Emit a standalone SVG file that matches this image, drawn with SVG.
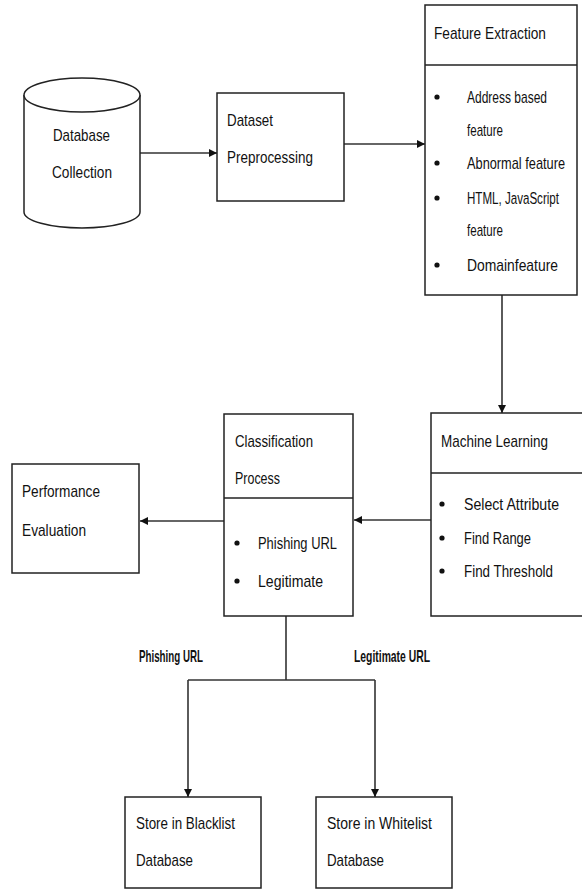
<svg xmlns="http://www.w3.org/2000/svg" width="582" height="890" viewBox="0 0 582 890">
<style>
.box{fill:#fff;stroke:#222;stroke-width:1.5}
.ln{fill:none;stroke:#333;stroke-width:1.6}
.t{font-family:"Liberation Sans",Arial,sans-serif;font-size:17px;fill:#111}
.b{font-family:"Liberation Sans",Arial,sans-serif;font-size:17px;font-weight:bold;fill:#111}
.dot{fill:#111}
</style>
<defs>
<marker id="ah" viewBox="0 0 10 10" refX="10" refY="5" markerWidth="8" markerHeight="8" markerUnits="userSpaceOnUse" orient="auto">
<path d="M0,0 L10,5 L0,10 Z" fill="#111"/>
</marker>
</defs>
<rect width="582" height="890" fill="#fff"/>
<g id="connectors">
<line class="ln" x1="140" y1="153" x2="217" y2="153" marker-end="url(#ah)"/>
<line class="ln" x1="344" y1="144" x2="425" y2="144" marker-end="url(#ah)"/>
<line class="ln" x1="502" y1="295" x2="502" y2="413" marker-end="url(#ah)"/>
<line class="ln" x1="431" y1="520" x2="354" y2="520" marker-end="url(#ah)"/>
<line class="ln" x1="224" y1="521" x2="140" y2="521" marker-end="url(#ah)"/>
<polyline class="ln" points="286,616 286,680"/>
<polyline class="ln" points="188,680 375,680"/>
<line class="ln" x1="188" y1="680" x2="188" y2="797" marker-end="url(#ah)"/>
<line class="ln" x1="375" y1="680" x2="375" y2="797" marker-end="url(#ah)"/>
<text class="b" x="139" y="662" textLength="64" lengthAdjust="spacingAndGlyphs">Phishing URL</text>
<text class="b" x="354" y="662" textLength="76" lengthAdjust="spacingAndGlyphs">Legitimate URL</text>
</g>
<g id="database-collection">
<path class="box" d="M24,95 L24,212 A58,16 0 0 0 140,212 L140,95"/>
<ellipse class="box" cx="82" cy="95" rx="58" ry="17"/>
<text class="t" x="53" y="141" textLength="57" lengthAdjust="spacingAndGlyphs">Database</text>
<text class="t" x="52" y="178" textLength="60" lengthAdjust="spacingAndGlyphs">Collection</text>
</g>
<g id="dataset-preprocessing">
<rect class="box" x="217" y="93" width="127" height="108"/>
<text class="t" x="227" y="126" textLength="46" lengthAdjust="spacingAndGlyphs">Dataset</text>
<text class="t" x="227" y="163" textLength="86" lengthAdjust="spacingAndGlyphs">Preprocessing</text>
</g>
<g id="feature-extraction">
<rect class="box" x="425" y="5" width="152" height="290"/>
<line class="box" x1="425" y1="65" x2="577" y2="65"/>
<text class="t" x="434" y="39" textLength="112" lengthAdjust="spacingAndGlyphs">Feature Extraction</text>
<circle class="dot" cx="437" cy="97" r="2.6"/>
<text class="t" x="467" y="103" textLength="80" lengthAdjust="spacingAndGlyphs">Address based</text>
<text class="t" x="467" y="136" textLength="36" lengthAdjust="spacingAndGlyphs">feature</text>
<circle class="dot" cx="437" cy="163" r="2.6"/>
<text class="t" transform="translate(467,169) scale(0.75,1)" textLength="130.7" lengthAdjust="spacingAndGlyphs">Abnormal feature</text>
<circle class="dot" cx="437" cy="198" r="2.6"/>
<text class="t" transform="translate(467,204) scale(0.7,1)" textLength="131.4" lengthAdjust="spacingAndGlyphs">HTML, JavaScript</text>
<text class="t" x="467" y="236" textLength="36" lengthAdjust="spacingAndGlyphs">feature</text>
<circle class="dot" cx="437" cy="265" r="2.6"/>
<text class="t" x="467" y="271" textLength="91" lengthAdjust="spacingAndGlyphs">Domainfeature</text>
</g>
<g id="machine-learning">
<rect class="box" x="431" y="413" width="160" height="203"/>
<line class="box" x1="431" y1="473" x2="591" y2="473"/>
<text class="t" x="441" y="447" textLength="107" lengthAdjust="spacingAndGlyphs">Machine Learning</text>
<circle class="dot" cx="442" cy="504" r="2.6"/>
<text class="t" x="464" y="510" textLength="95" lengthAdjust="spacingAndGlyphs">Select Attribute</text>
<circle class="dot" cx="442" cy="538" r="2.6"/>
<text class="t" x="464" y="544" textLength="67" lengthAdjust="spacingAndGlyphs">Find Range</text>
<circle class="dot" cx="442" cy="571" r="2.6"/>
<text class="t" x="464" y="577" textLength="89" lengthAdjust="spacingAndGlyphs">Find Threshold</text>
</g>
<g id="classification-process">
<rect class="box" x="224" y="414" width="129" height="202"/>
<line class="box" x1="224" y1="498" x2="353" y2="498"/>
<text class="t" x="235" y="447" textLength="78" lengthAdjust="spacingAndGlyphs">Classification</text>
<text class="t" x="235" y="484" textLength="45" lengthAdjust="spacingAndGlyphs">Process</text>
<circle class="dot" cx="237" cy="543" r="2.6"/>
<text class="t" x="258" y="549" textLength="79" lengthAdjust="spacingAndGlyphs">Phishing URL</text>
<circle class="dot" cx="237" cy="581" r="2.6"/>
<text class="t" x="258" y="587" textLength="65" lengthAdjust="spacingAndGlyphs">Legitimate</text>
</g>
<g id="performance-evaluation">
<rect class="box" x="12" y="464" width="127" height="109"/>
<text class="t" x="22" y="497" textLength="78" lengthAdjust="spacingAndGlyphs">Performance</text>
<text class="t" x="22" y="536" textLength="64" lengthAdjust="spacingAndGlyphs">Evaluation</text>
</g>
<g id="store-blacklist">
<rect class="box" x="125" y="797" width="136" height="91"/>
<text class="t" x="136" y="829" textLength="99" lengthAdjust="spacingAndGlyphs">Store in Blacklist</text>
<text class="t" x="136" y="866" textLength="57" lengthAdjust="spacingAndGlyphs">Database</text>
</g>
<g id="store-whitelist">
<rect class="box" x="316" y="797" width="136" height="91"/>
<text class="t" x="327" y="829" textLength="105" lengthAdjust="spacingAndGlyphs">Store in Whitelist</text>
<text class="t" x="327" y="866" textLength="57" lengthAdjust="spacingAndGlyphs">Database</text>
</g>
</svg>
